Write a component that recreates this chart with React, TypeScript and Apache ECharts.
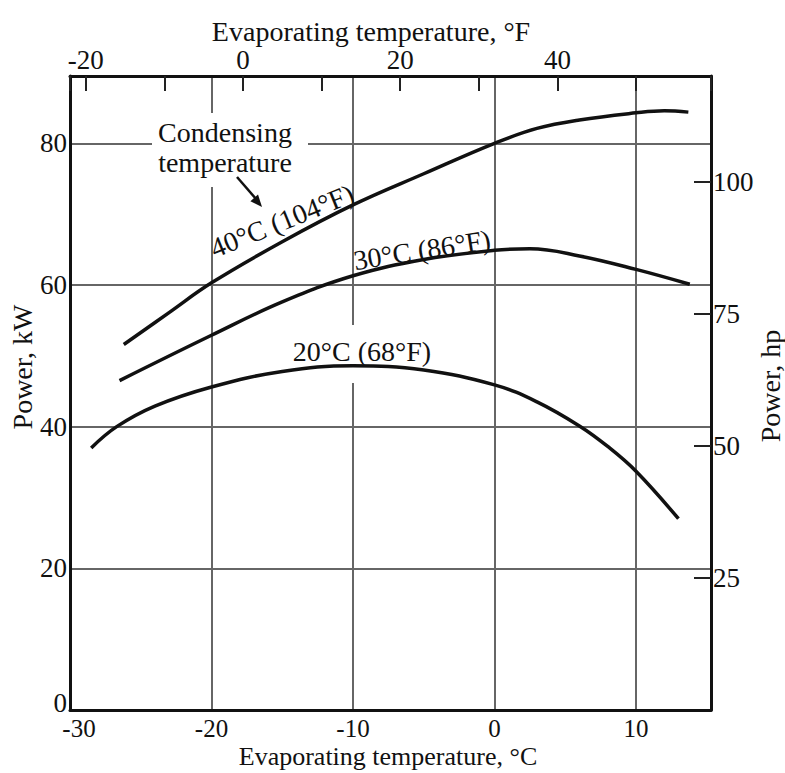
import React, { useEffect, useRef } from 'react';
import * as echarts from 'echarts';

// Evaporating temperature (°C) vs compressor power (kW), per condensing temperature
const evapC40 = [-26.2, -23, -20, -15, -10, -5, 0, 3, 6, 10, 12, 13.7];
const power40 = [51.6, 56.1, 60.3, 66.1, 71.3, 75.7, 80.0, 82.1, 83.3, 84.3, 84.6, 84.4];
const evapC30 = [-26.5, -20, -15, -10, -5, 0, 2.5, 6, 10, 13.8];
const power30 = [46.5, 52.9, 57.6, 61.3, 63.6, 64.9, 65.1, 64.1, 62.2, 60.1];
const evapC20 = [-28.5, -26.7, -24, -20, -15, -10, -5, 0, 3, 6, 8, 10, 13];
const power20 = [37.0, 40.0, 42.9, 45.6, 47.8, 48.6, 48.0, 45.9, 43.5, 40.1, 37.2, 33.7, 27.0];

const curveLabels = ['40°C (104°F)', '30°C (86°F)', '20°C (68°F)'];
const annotation = 'Condensing\ntemperature';
const titleBottom = 'Evaporating temperature, °C';
const titleTop = 'Evaporating temperature, °F';
const titleLeft = 'Power, kW';
const titleRight = 'Power, hp';

const xMinC = -30;
const xMaxC = 15.3;
const yMaxKW = 89.5;
const KW_PER_HP = 0.7457;
const cToF = (c: number) => (c * 9) / 5 + 32;

const FONT = "'Liberation Serif', 'Times New Roman', serif";
const INK = '#111';
const GRID = '#666';

const zip = (xs: number[], ys: number[]) => xs.map((x, i) => [x, ys[i]]);

export default function App() {
  const ref = useRef<HTMLDivElement>(null);
  useEffect(() => {
    document.body.style.margin = '0';
    const chart = echarts.init(ref.current!, null, { renderer: 'svg' });
    const labelStyle = { fontFamily: FONT, fontSize: 27, color: INK };
    const bottomLabel = { fontFamily: FONT, fontSize: 25, color: INK, lineHeight: 20 };
    const line = (data: number[][]) => ({
      type: 'line',
      data,
      smooth: 0.4,
      symbol: 'none',
      xAxisIndex: 0,
      yAxisIndex: 0,
      z: 2,
      lineStyle: { color: INK, width: 3.5 },
    });
    const textEl = (text: string, x: number, y: number, rot = 0, extra: any = {}) => ({
      type: 'text',
      x,
      y,
      rotation: rot,
      z: 10,
      style: {
        text,
        fontFamily: FONT,
        fontSize: 28,
        fill: INK,
        align: 'center',
        verticalAlign: 'middle',
        ...extra,
      },
    });
    const option: any = {
      animation: false,
      grid: { left: 70, right: 74, top: 76, bottom: 63, outerBoundsMode: 'none' },
      xAxis: [
        {
          type: 'value',
          position: 'bottom',
          min: xMinC,
          max: xMaxC,
          interval: 10,
          axisLine: { show: true, onZero: false, lineStyle: { color: INK, width: 3 } },
          axisTick: { show: false },
          axisLabel: {
            ...bottomLabel,
            margin: 8,
            showMaxLabel: false,
            formatter: (v: number) => (v === xMinC ? `{first|${v}}` : `${v}`),
            rich: { first: { ...bottomLabel, padding: [0, 0, 0, 18] } },
          },
          splitLine: { show: true, lineStyle: { color: GRID, width: 2 } },
        },
        {
          type: 'value',
          position: 'top',
          min: cToF(xMinC),
          max: cToF(xMaxC),
          splitNumber: 4,
          axisLine: { show: true, onZero: false, lineStyle: { color: INK, width: 3 } },
          axisTick: { show: true, inside: true, length: 15, lineStyle: { color: '#222', width: 2 } },
          minorTick: { show: true, splitNumber: 2, length: 15, lineStyle: { color: '#222', width: 2 } },
          axisLabel: { ...labelStyle, lineHeight: 20, margin: 6, showMinLabel: false, showMaxLabel: false },
          splitLine: { show: false },
        },
      ],
      yAxis: [
        {
          type: 'value',
          position: 'left',
          min: 0,
          max: yMaxKW,
          interval: 20,
          axisLine: { show: true, onZero: false, lineStyle: { color: INK, width: 3 } },
          axisTick: { show: false },
          axisLabel: {
            ...labelStyle,
            lineHeight: 18,
            margin: 3,
            showMaxLabel: false,
            formatter: (v: number) => (v === 0 ? `{zero|${v}}` : `${v}`),
            rich: { zero: { ...labelStyle, lineHeight: 18, padding: [0, 0, 14, 0] } },
          },
          splitLine: { show: true, lineStyle: { color: GRID, width: 2 } },
        },
        {
          type: 'value',
          position: 'right',
          min: 0,
          max: yMaxKW / KW_PER_HP,
          interval: 25,
          axisLine: { show: true, onZero: false, lineStyle: { color: INK, width: 3 } },
          axisTick: { show: true, inside: true, length: 17, lineStyle: { color: '#222', width: 2 } },
          axisLabel: { ...labelStyle, lineHeight: 18, margin: 2, showMinLabel: false, showMaxLabel: false },
          splitLine: { show: false },
        },
      ],
      series: [line(zip(evapC40, power40)), line(zip(evapC30, power30)), line(zip(evapC20, power20))],
      graphic: [
        { type: 'rect', z: 1, shape: { x: 152, y: 113, width: 156, height: 74 }, style: { fill: '#fff' } },
        { type: 'rect', z: 1, shape: { x: 287, y: 325, width: 150, height: 58 }, style: { fill: '#fff' } },
        textEl(annotation, 225, 147, 0, { lineHeight: 30 }),
        {
          type: 'line',
          z: 10,
          shape: { x1: 237, y1: 177, x2: 256, y2: 199 },
          style: { stroke: INK, lineWidth: 2.5 },
        },
        {
          type: 'polygon',
          z: 10,
          shape: { points: [[262, 207], [250.4, 201.2], [258, 194.6]] },
          style: { fill: INK },
        },
        textEl(curveLabels[0], 282, 221, (22 * Math.PI) / 180),
        textEl(curveLabels[1], 422, 250, (9 * Math.PI) / 180),
        textEl(curveLabels[2], 362, 351),
        textEl(titleTop, 371, 31, 0, { lineHeight: 24 }),
        textEl(titleBottom, 388, 756, 0, { lineHeight: 24, fontSize: 26 }),
        textEl(titleLeft, 22, 367, Math.PI / 2),
        textEl(titleRight, 770, 386, Math.PI / 2),
      ],
    };
    chart.setOption(option);
    return () => chart.dispose();
  }, []);
  return <div ref={ref} style={{ width: 785, height: 773 }} />;
}
